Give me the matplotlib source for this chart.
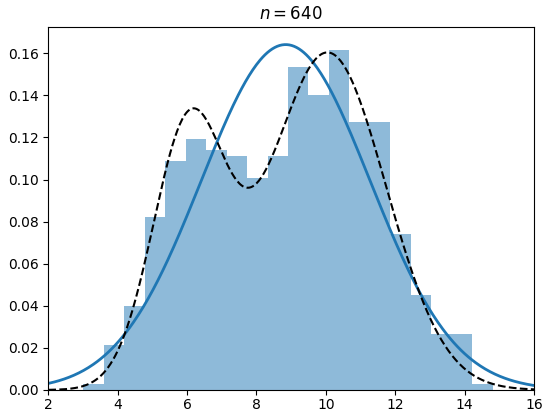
import numpy as np
import matplotlib
matplotlib.use("Agg")
import matplotlib.pyplot as plt

# histogram: 20 equal bins, counts sum to n
n_total = 640
bin_start = 3.01
bin_width = 0.59
counts = [1, 8, 15, 31, 41, 45, 43, 42, 38, 42,
          58, 53, 61, 48, 48, 28, 17, 10, 10, 1]

# two-component mixture behind the dashed curve (weight, mean, sd)
mix_weights = [0.325, 0.675]
mix_means = [6.05, 10.05]
mix_sds = [1.05, 1.68]

xticks = [2, 4, 6, 8, 10, 12, 14, 16]


def normal_pdf(x, mu, sd):
    return np.exp(-0.5 * ((x - mu) / sd) ** 2) / (sd * np.sqrt(2 * np.pi))


edges = bin_start + bin_width * np.arange(len(counts) + 1)
centers = 0.5 * (edges[:-1] + edges[1:])
weights = np.array(counts, dtype=float)

# normal fit from the binned sample
mu = np.average(centers, weights=weights)
sd = np.sqrt(np.average((centers - mu) ** 2, weights=weights))

fig = plt.figure(figsize=(5.44, 4.12), dpi=100)
ax = fig.add_axes([0.0888, 0.0534, 0.8928, 0.8803])

ax.hist(centers, bins=edges, weights=weights, density=True,
        color="C0", alpha=0.5)

xs = np.linspace(2, 16, 400)
ax.plot(xs, normal_pdf(xs, mu, sd), color="C0", lw=2)
mix = sum(w * normal_pdf(xs, m, s)
          for w, m, s in zip(mix_weights, mix_means, mix_sds))
ax.plot(xs, mix, "k--", lw=1.5)

ax.set_xlim(2, 16)
ax.set_ylim(bottom=0)
ax.set_xticks(xticks)
ax.tick_params(axis="x", pad=2.5)
ax.set_title(f"$n = {n_total}$")

fig.savefig("out.png", dpi=100)
